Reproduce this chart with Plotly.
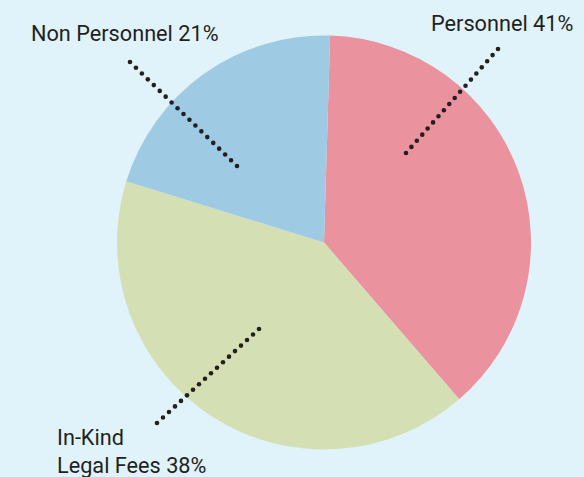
import numpy as np
import plotly.graph_objects as go

# ---- data ----
categories = ["Personnel", "In-Kind Legal Fees", "Non Personnel"]
slice_values = [38.2, 41.1, 20.7]          # slice sizes as drawn
label_texts = ["Personnel 41%", "In-Kind<br>Legal Fees 38%", "Non Personnel 21%"]
colors = ["#ea929d", "#d4e0b4", "#9ecbe3"]

W, H = 584, 477
BG = "#e0f3fb"
TXT = "#231f20"

# pie geometry (pixels)
CX, CY, R = 324, 242.5, 207

fig = go.Figure()
fig.add_trace(go.Pie(
    labels=categories, values=slice_values, sort=False,
    direction="clockwise", rotation=1.7,
    marker=dict(colors=colors, line=dict(width=0)),
    textinfo="none", hoverinfo="label+percent", showlegend=False,
    domain=dict(x=[(CX - R) / W, (CX + R) / W],
                y=[(H - CY - R) / H, (H - CY + R) / H]),
))

# leader lines (dotted, round dots), pixel endpoints, one per label
leaders = [((406, 153), (498, 49)), ((259, 329), (157, 423)), ((237, 166), (130, 62))]
DOT = 2.3
for (x0, y0), (x1, y1) in leaders:
    n = int(round(np.hypot(x1 - x0, y1 - y0) / 8.2)) + 1
    for px, py in zip(np.linspace(x0, x1, n), np.linspace(y0, y1, n)):
        fig.add_shape(type="circle", xref="x", yref="y", layer="above",
                      x0=px - DOT, x1=px + DOT, y0=py - DOT, y1=py + DOT,
                      fillcolor=TXT, line=dict(width=0))

# label annotations (pixel positions)
label_pos = [(575, 23.5, "right"), (55, 451, "left"), (29, 33.5, "left")]
for txt, (x, y, anc) in zip(label_texts, label_pos):
    fig.add_annotation(x=x, y=y, xref="x", yref="y", text=txt, showarrow=False,
                       xanchor=anc, yanchor="middle", align="left",
                       font=dict(family="Roboto", size=21.7, color=TXT))

fig.update_layout(
    width=W, height=H, margin=dict(l=0, r=0, t=0, b=0),
    paper_bgcolor=BG, plot_bgcolor="rgba(0,0,0,0)",
    xaxis=dict(range=[0, W], visible=False, domain=[0, 1], fixedrange=True),
    yaxis=dict(range=[H, 0], visible=False, domain=[0, 1], fixedrange=True),
)
fig.write_html("out.html", config={"displayModeBar": False},
               post_script="document.body.style.margin='0';")
